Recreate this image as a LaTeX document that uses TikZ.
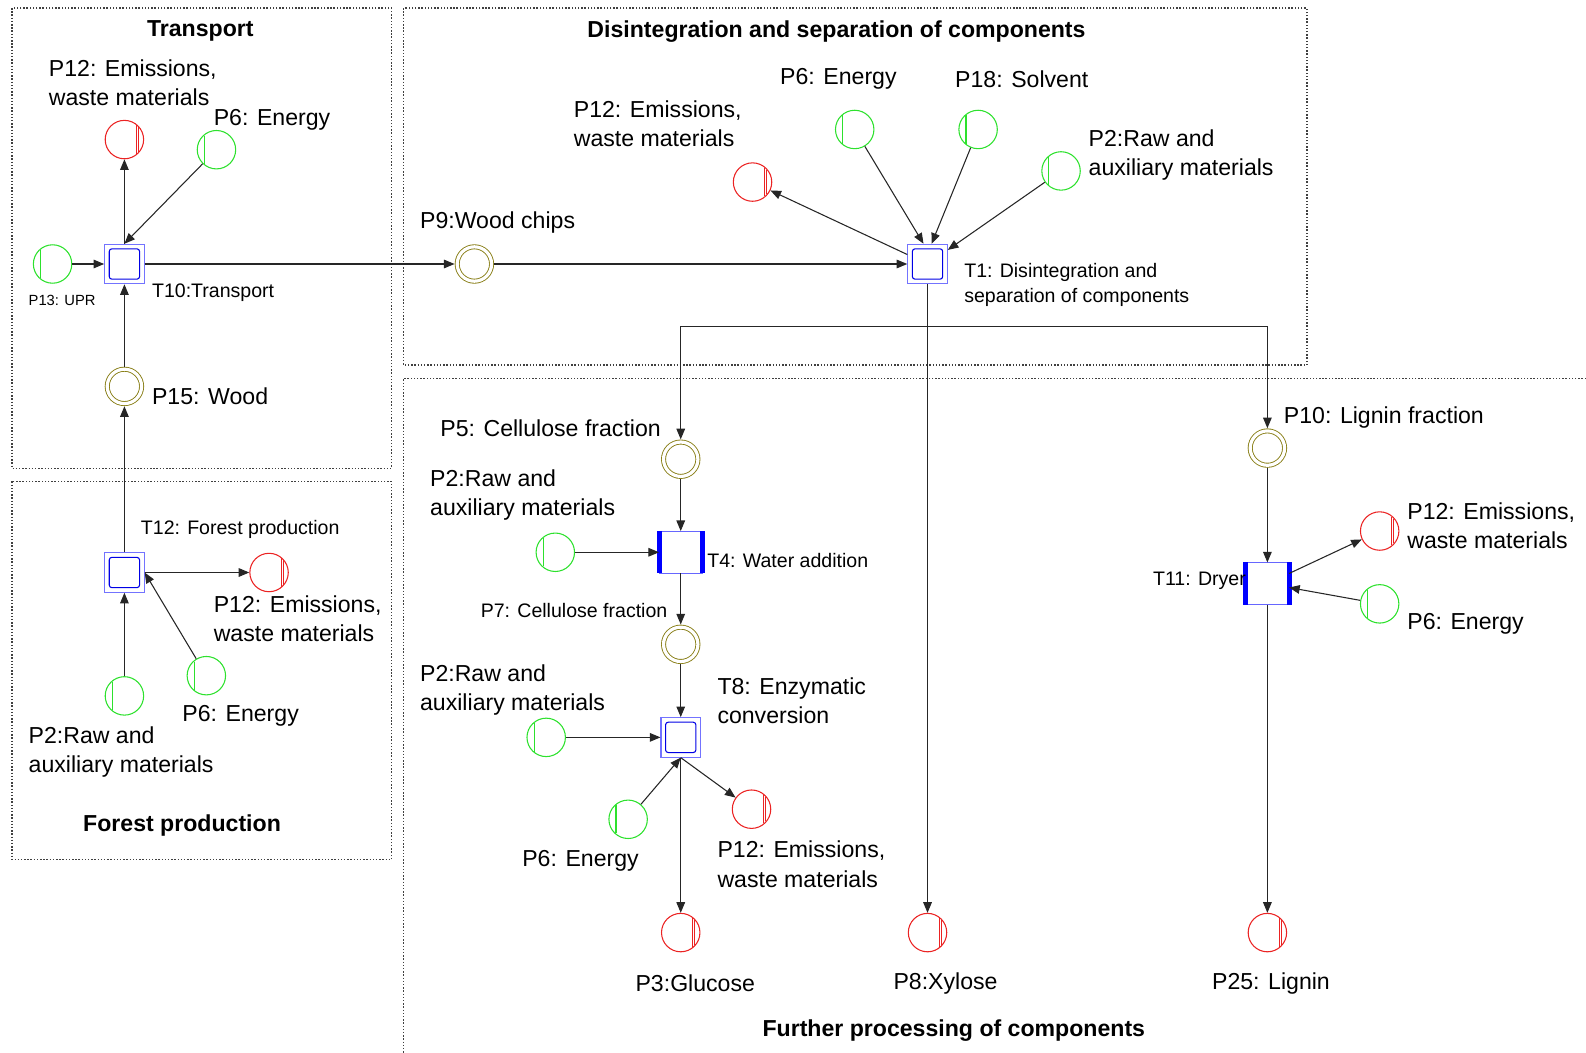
\documentclass[tikz,border=0pt]{standalone}
\usepackage{fontspec}
\setmainfont{Liberation Sans}
\usetikzlibrary{arrows.meta, positioning}

\definecolor{placegreen}{RGB}{45,225,45}
\definecolor{placered}{RGB}{235,35,35}
\definecolor{placeolive}{RGB}{135,125,20}

\begin{document}
\begin{tikzpicture}[x=0.02cm, y=-0.02cm,
  arc/.style={-{Triangle[length=2.1mm,width=1.7mm]}, black!85, line width=0.6pt},
  frame/.style={densely dotted, black!75, line width=0.8pt},
  inplace/.style={circle, draw=placegreen, line width=0.6pt, minimum size=0.76cm, inner sep=0pt,
    path picture={\draw[placegreen, line width=0.6pt] ([shift={(-12,-14)}]path picture bounding box.center) -- ++(0,28);}},
  outplace/.style={circle, draw=placered, line width=0.6pt, minimum size=0.76cm, inner sep=0pt,
    path picture={\draw[placered, line width=0.5pt] ([shift={(12,-14)}]path picture bounding box.center) -- ++(0,28);
      \draw[placered, line width=0.5pt] ([shift={(14,-12)}]path picture bounding box.center) -- ++(0,24);}},
  midplace/.style={circle, draw=placeolive, line width=0.5pt, double, double distance=1.8pt,
    minimum size=0.68cm, inner sep=0pt, outer sep=1.5pt},
  dtrans/.style={rectangle, draw=blue!55, line width=0.6pt, minimum size=0.78cm, inner sep=0pt,
    path picture={\draw[blue!90!black, line width=0.6pt, rounded corners=1.5pt] ([shift={(-15,-15)}]path picture bounding box.center) rectangle ++(30,30);}},
  btrans/.style={rectangle, draw=blue!60, line width=0.5pt, minimum width=0.84cm, minimum height=0.82cm, inner sep=0pt},
  bar/.style={blue, line width=2.8pt},
  lblbig/.style={font=\fontsize{13}{16.5}\selectfont, inner sep=0pt, align=left, anchor=west},
  lblsmall/.style={font=\fontsize{11}{14.2}\selectfont, inner sep=0pt, align=left, anchor=west},
  lbltiny/.style={font=\fontsize{8.3}{10}\selectfont, inner sep=0pt, anchor=west},
  ttl/.style={font=\bfseries\fontsize{13}{16}\selectfont, inner sep=0pt}]

  \useasboundingbox (0,0) rectangle (1568,1041);

  % frames
  \draw[frame] (12,8) rectangle (387,463);
  \draw[frame] (12,476) rectangle (387,850);
  \draw[frame] (399,8) rectangle (1292,361);
  \draw[frame] (1568,374) -- (399,374) -- (399,1041);

  \node[ttl] (tTransport) at (198,31) {Transport};
  \node[ttl] (tDisint) at (827,31) {Disintegration and separation of components};
  \node[ttl] (tForest) at (180,816) {Forest production};
  \node[ttl] (tFurther) at (943,1019) {Further processing of components};

  % TRANSPORT
  \node[dtrans] (T10) at (123,261) {};
  \node[inplace] (P13) at (52,261) {};
  \node[outplace] (P12a) at (123,138) {};
  \node[inplace] (P6a) at (214,148) {};
  \node[midplace] (P15) at (123,382) {};

  \node[lblbig] (lP12a) at (48,81.5) {P12: Emissions,\\waste materials};
  \node[lblbig] (lP6a) at (211,118) {P6: Energy};
  \node[lbltiny] (lP13) at (28,297) {P13: UPR};
  \node[lblsmall] (lT10) at (150,289) {T10:Transport};
  \node[lblbig] (lP15) at (150,392) {P15: Wood};

  % FOREST PRODUCTION
  \node[dtrans] (T12) at (123,566) {};
  \node[outplace] (P12b) at (266,566) {};
  \node[inplace] (P6b) at (204,668) {};
  \node[inplace] (P2b) at (123,688) {};

  \node[lblsmall] (lT12) at (139,523) {T12: Forest production};
  \node[lblbig] (lP12b) at (211,611.5) {P12: Emissions,\\waste materials};
  \node[lblbig] (lP6b) at (180,708) {P6: Energy};
  \node[lblbig] (lP2b) at (28,743.5) {P2:Raw and\\auxiliary materials};

  % DISINTEGRATION
  \node[midplace] (P9) at (469,261) {};
  \node[dtrans] (T1) at (917,261) {};
  \node[outplace] (P12c) at (744,180) {};
  \node[inplace] (P6c) at (845,128) {};
  \node[inplace] (P18) at (967,128) {};
  \node[inplace] (P2c) at (1049,169) {};
  \coordinate (split) at (917,323);

  \node[lblbig] (lP9) at (415,220) {P9:Wood chips};
  \node[lblbig] (lP12c) at (567,122.5) {P12: Emissions,\\waste materials};
  \node[lblbig] (lP6c) at (771,78) {P6: Energy};
  \node[lblbig] (lP18) at (944,78) {P18: Solvent};
  \node[lblbig] (lP2c) at (1076,153.5) {P2:Raw and\\auxiliary materials};
  \node[lblsmall] (lT1) at (953,281.5) {T1: Disintegration and\\separation of components};

  % FURTHER PROCESSING
  \node[midplace] (P5) at (673,454) {};
  \node[btrans] (T4) at (673,546) {};
  \node[inplace] (P2d) at (549,546) {};
  \node[midplace] (P7) at (673,637) {};
  \node[dtrans] (T8) at (673,729) {};
  \node[inplace] (P2e) at (540,729) {};
  \node[inplace] (P6d) at (621,810) {};
  \node[outplace] (P12d) at (743,800) {};
  \node[outplace] (P3) at (673,922) {};
  \node[outplace] (P8) at (917,922) {};
  \node[midplace] (P10) at (1253,443) {};
  \node[btrans] (T11) at (1253,577) {};
  \node[outplace] (P12e) at (1364,525) {};
  \node[inplace] (P6e) at (1364,597) {};
  \node[outplace] (P25) at (1253,922) {};

  \draw[bar] (T4.north west) -- (T4.south west);
  \draw[bar] (T4.north east) -- (T4.south east);
  \draw[bar] (T11.north west) -- (T11.south west);
  \draw[bar] (T11.north east) -- (T11.south east);

  \node[lblbig] (lP5) at (435,423) {P5: Cellulose fraction};
  \node[lblbig] (lP2d) at (425,489.5) {P2:Raw and\\auxiliary materials};
  \node[lblsmall] (lT4) at (699,554) {T4: Water addition};
  \node[lblsmall] (lP7) at (475,604) {P7: Cellulose fraction};
  \node[lblbig] (lT8) at (709,692.5) {T8: Enzymatic\\conversion};
  \node[lblbig] (lP2e) at (415,682.5) {P2:Raw and\\auxiliary materials};
  \node[lblbig] (lP6d) at (516,851) {P6: Energy};
  \node[lblbig] (lP12d) at (709,854.5) {P12: Emissions,\\waste materials};
  \node[lblbig] (lP3) at (628,972) {P3:Glucose};
  \node[lblbig] (lP8) at (883,972) {P8:Xylose};
  \node[lblbig] (lP25) at (1198,972) {P25: Lignin};
  \node[lblbig] (lP10) at (1269,413) {P10: Lignin fraction};
  \node[lblsmall, anchor=east] (lT11) at (1232,574) {T11: Dryer};
  \node[lblbig] (lP12e) at (1391,519.5) {P12: Emissions,\\waste materials};
  \node[lblbig] (lP6e) at (1391,617) {P6: Energy};

  % arcs
  \draw[arc] (P13) -- (T10);
  \draw[arc] (T10) -- (P12a);
  \draw[arc] (P6a) -- (T10.north);
  \draw[arc] (P15) -- (T10);
  \draw[arc] (T10) -- (P9);

  \draw[arc] (T12) -- (P12b);
  \draw[arc] (P6b) -- (T12.east);
  \draw[arc] (P2b) -- (T12);
  \draw[arc] (T12) -- (P15);

  \draw[arc] (P9) -- (T1);
  \draw[arc] (T1) -- (P12c);
  \draw[arc] (P6c) -- ([xshift=-0.08cm]T1.north);
  \draw[arc] (P18) -- ([xshift=0.08cm]T1.north);
  \draw[arc] (P2c) -- (T1);
  \draw[arc] (T1) -- (P8);
  \draw[arc] (split) -| (P5);
  \draw[arc] (split) -| (P10);

  \draw[arc] (P5) -- (T4);
  \draw[arc] (P2d) -- (T4);
  \draw[arc] (T4) -- (P7);
  \draw[arc] (P7) -- (T8);
  \draw[arc] (P2e) -- (T8);
  \draw[arc] (P6d) -- (T8.south);
  \draw[arc] (T8.south) -- (P12d);
  \draw[arc] (T8) -- (P3);

  \draw[arc] (P10) -- (T11);
  \draw[arc] (T11) -- (P12e);
  \draw[arc] (P6e) -- (T11);
  \draw[arc] (T11) -- (P25);
\end{tikzpicture}
\end{document}
